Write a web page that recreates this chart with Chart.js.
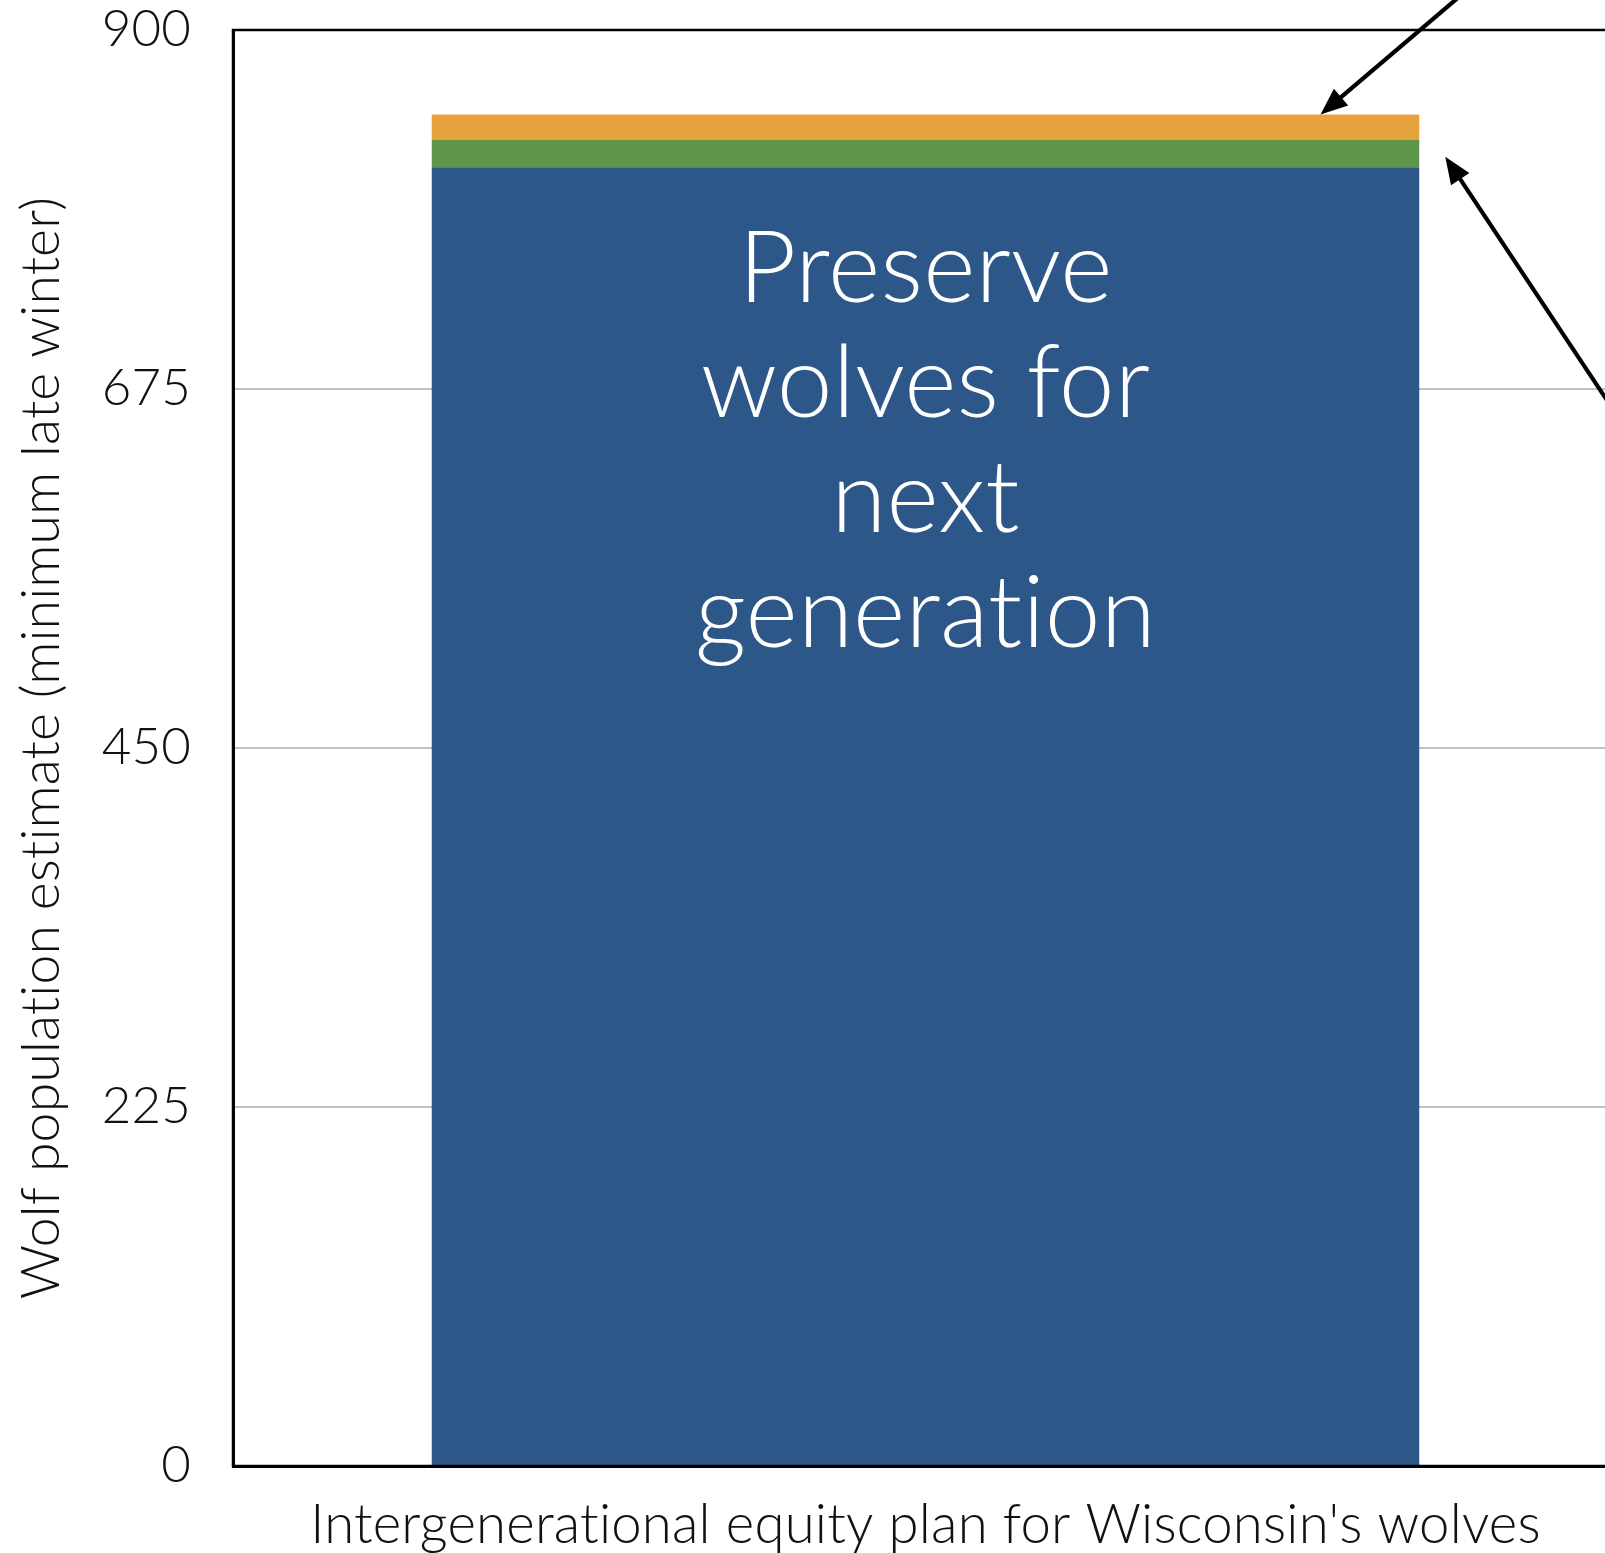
<!DOCTYPE html>
<html>
<head>
<meta charset="utf-8">
<script src="https://cdn.jsdelivr.net/npm/chart.js@4/dist/chart.umd.min.js"></script>
<style>
  html, body { margin: 0; padding: 0; background: #fff; overflow: hidden; }
  #wrap { width: 1605px; height: 1553px; overflow: hidden; position: relative; }
  canvas { display: block; font-variant-ligatures: none; }
</style>
</head>
<body>
<div id="wrap"><canvas id="c" width="1640" height="1553"></canvas></div>
<script>
// Wisconsin wolf population under the intergenerational equity plan
const categories = ["Intergenerational equity plan for Wisconsin's wolves"];
const preserved = [814];   // wolves kept for the next generation
const middleBand = [17];   // green segment
const topBand = [16];      // orange segment
const yTicks = [0, 225, 450, 675, 900];
const barText = ['Preserve', 'wolves for', 'next', 'generation'];

const FONT = 'Lato, "Helvetica Neue", "Liberation Sans", sans-serif';
const CANVAS_W = 1640;
const PLOT_LEFT = 233;
const PLOT_RIGHT = 1618;
const PLOT_TOP = 30;
const X_AXIS_H = 87;

// A tiny letter spacing keeps the font from joining "ti" into a ligature
const noLigatures = {
  id: 'noLigatures',
  beforeDraw(chart) { if ('letterSpacing' in chart.ctx) chart.ctx.letterSpacing = '0.2px'; }
};

// Frame around the plot, white text on the bar, and the two pointer arrows
const decorations = {
  id: 'decorations',
  afterDatasetsDraw(chart) {
    const { ctx, chartArea: a, scales: { y } } = chart;
    const blueBar = chart.getDatasetMeta(0).data[0];
    const barRight = blueBar.x + blueBar.width / 2;

    ctx.save();
    // box
    ctx.strokeStyle = '#000';
    ctx.lineWidth = 2.5;
    ctx.strokeRect(a.left, a.top, a.right - a.left, a.bottom - a.top);

    // label inside the blue segment
    ctx.fillStyle = '#ffffff';
    ctx.font = '300 100px ' + FONT;
    ctx.textAlign = 'center';
    ctx.textBaseline = 'alphabetic';
    const firstBase = y.getPixelForValue(preserved[0]) + 135;
    barText.forEach((line, i) => ctx.fillText(line, blueBar.x, firstBase + i * 115));

    // arrows
    const arrow = (tx, ty, dx, dy, len) => {
      const n = Math.hypot(dx, dy); dx /= n; dy /= n;
      const head = 27, half = 11;
      ctx.strokeStyle = '#000';
      ctx.fillStyle = '#000';
      ctx.lineWidth = 4.2;
      ctx.beginPath();
      ctx.moveTo(tx + dx * head * 0.8, ty + dy * head * 0.8);
      ctx.lineTo(tx + dx * len, ty + dy * len);
      ctx.stroke();
      const bx = tx + dx * head, by = ty + dy * head;
      ctx.beginPath();
      ctx.moveTo(tx, ty);
      ctx.lineTo(bx - dy * half, by + dx * half);
      ctx.lineTo(bx + dy * half, by - dx * half);
      ctx.closePath();
      ctx.fill();
    };
    const total = preserved[0] + middleBand[0] + topBand[0];
    arrow(blueBar.x + 0.4 * blueBar.width, y.getPixelForValue(total), 133, -113, 400);
    arrow(barRight + 26, y.getPixelForValue(preserved[0] + middleBand[0] / 2) + 3, 160, 241, 500);
    ctx.restore();
  }
};

new Chart(document.getElementById('c'), {
  type: 'bar',
  data: {
    labels: categories,
    datasets: [
      { data: preserved, backgroundColor: '#2e5789' },
      { data: middleBand, backgroundColor: '#5d964a' },
      { data: topBand, backgroundColor: '#e8a23d' }
    ]
  },
  options: {
    responsive: false,
    animation: false,
    events: [],
    layout: { padding: { top: PLOT_TOP, right: CANVAS_W - PLOT_RIGHT, left: 0, bottom: 0 } },
    plugins: { legend: { display: false }, tooltip: { enabled: false } },
    datasets: { bar: { barPercentage: 0.713, categoryPercentage: 1, borderWidth: 0 } },
    scales: {
      x: {
        stacked: true,
        grid: { display: false, drawTicks: false },
        border: { color: '#000', width: 3 },
        ticks: {
          color: '#111',
          font: { family: FONT, size: 54.5, weight: 300 },
          padding: 27,
          maxRotation: 0,
          autoSkip: false
        },
        afterFit(scale) { scale.height = X_AXIS_H; scale.paddingLeft = 0; scale.paddingRight = 0; }
      },
      y: {
        stacked: true,
        min: 0,
        max: 900,
        afterBuildTicks(scale) { scale.ticks = yTicks.map(v => ({ value: v })); },
        grid: { color: '#c0c0c0', lineWidth: 2, drawTicks: false },
        border: { color: '#000', width: 3 },
        ticks: {
          color: '#111',
          font: { family: FONT, size: 51, weight: 300, lineHeight: 1 },
          padding: 42
        },
        title: {
          display: true,
          text: 'Wolf population estimate (minimum late winter)',
          color: '#111',
          font: { family: FONT, size: 53.5, weight: 300 },
          padding: { top: 10, bottom: 0 }
        },
        afterFit(scale) { scale.width = PLOT_LEFT; scale.paddingTop = 0; scale.paddingBottom = 0; }
      }
    }
  },
  plugins: [noLigatures, decorations]
});
</script>
</body>
</html>
